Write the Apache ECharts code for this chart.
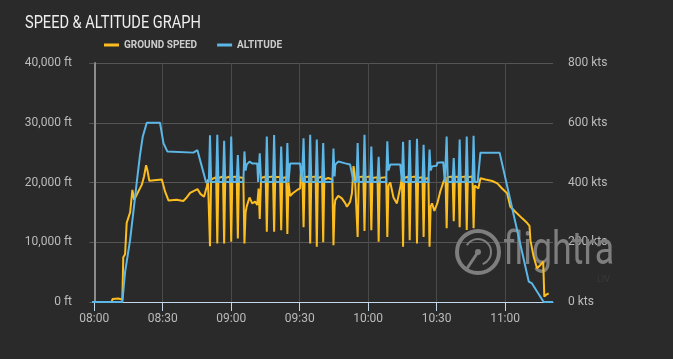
<!DOCTYPE html>
<html><head><meta charset="utf-8">
<script src="https://cdn.jsdelivr.net/npm/echarts@6/dist/echarts.min.js"></script>
<style>html,body{margin:0;padding:0;background:#2a2a2a}#c{width:673px;height:359px}</style>
</head><body><div id="c"></div>
<script>
// x values are minutes after 08:00
const xTicks = [0, 30, 60, 90, 120, 150, 180];
const xTickLabels = ['08:00', '08:30', '09:00', '09:30', '10:00', '10:30', '11:00'];

const altTimes = [-1,12.3,13.5,15.7,17.1,18.6,20.0,21.2,23.0,28.8,30.3,32.0,32.5,43.4,45.2,47.1,49.0,
 50.2,50.7,51.2,53.4,53.9,54.4,56.4,56.9,57.4,59.5,60.0,60.5,62.4,62.9,63.4,65.3,65.8,66.3,66.8,68.0,69.2,71.4,
 71.8,72.5,73.1,75.1,75.6,76.1,78.3,78.8,79.3,81.4,81.9,82.4,84.1,84.6,85.1,85.8,90.2,91.0,
 91.2,91.7,92.2,94.1,94.6,95.1,97.0,97.5,98.0,99.8,100.3,100.8,104.3,104.8,105.3,105.6,106.9,110.0,112.1,112.9,113.6,
 114.9,115.4,115.9,117.9,118.4,118.9,120.9,121.4,121.9,124.1,124.6,125.1,127.9,128.4,128.9,129.7,134.1,134.8,
 135.3,135.8,137.7,138.2,138.7,140.9,141.4,141.9,143.8,144.3,144.8,146.4,146.9,147.4,148.0,150.0,150.3,152.9,153.6,
 153.9,154.4,154.9,157.0,157.5,158.0,159.6,160.1,160.6,162.7,163.2,163.7,165.7,166.2,166.7,168.0,169.2,177.6,190.4,191.8,196.9,201];
const altValues = [0,0,5000,10400,15000,20000,24500,27600,30000,30000,26600,25200,25000,25000,25400,22700,20000,
 20100,27900,20100,20100,28000,20100,20100,27000,20100,20100,27700,20100,20100,24600,20100,20100,25200,22000,23000,23500,23200,23200,
 20100,24900,20100,20100,27700,20100,20100,27950,20100,20100,26000,20100,20100,26600,20100,23200,23200,20100,
 20100,27400,20100,20100,28000,20100,20100,27200,20100,20100,26600,20100,20100,25700,21000,23000,23500,23200,23000,21500,20100,
 20100,26600,20100,20100,28000,20100,20100,26000,20100,20100,24300,20100,20100,26900,22000,23000,23000,20100,
 26800,20100,20100,27100,20100,20100,27300,20100,20100,26300,20100,20100,25500,22000,22700,22800,23300,23400,20100,
 20100,27700,20100,20100,24100,20100,20100,27200,20100,20100,27700,20100,20100,27800,20100,20100,25000,25000,3400,3100,0,0];

const spdTimes = [-1,7.6,8.0,10.5,11.0,12.3,12.7,13.5,14.2,15.7,16.7,17.5,19.3,20.8,21.8,22.7,23.3,24.1,29.6,31.0,32.5,36.1,39.0,40.5,42.0,45.2,45.6,46.5,48.1,49.3,49.8,
 50.2,50.7,51.2,53.4,53.9,54.4,56.4,56.9,57.4,59.5,60.0,60.5,62.4,62.9,63.4,65.3,65.8,66.3,66.8,68.0,69.2,70.5,71.4,
 72.0,72.5,73.1,75.1,75.6,76.1,78.3,78.8,79.3,81.4,81.9,82.4,84.1,84.6,85.1,85.8,87.1,88.9,90.2,90.7,91.2,
 91.7,92.2,94.1,94.6,95.1,97.0,97.5,98.0,99.8,100.3,100.8,102.5,104.3,104.8,105.3,105.6,106.9,108.5,110.0,110.7,112.1,112.9,113.6,114.2,
 114.9,115.4,115.9,117.9,118.4,118.9,120.9,121.4,121.9,124.1,124.6,125.1,127.9,128.4,128.9,129.7,131.1,132.6,134.1,
 134.8,135.3,135.8,137.7,138.2,138.7,140.9,141.4,141.9,143.8,144.3,144.8,146.4,146.9,147.4,148.0,149.0,150.3,151.6,152.9,
 153.9,154.4,154.9,157.0,157.5,158.0,159.6,160.1,160.6,162.7,163.2,163.7,165.7,166.2,166.7,168.3,169.2,171.4,174.4,176.6,178.7,180.9,
 182.3,184.5,187.5,189.6,190.7,191.1,192.5,194.0,195.5,196.7,197.2,198.1,199.1];
const spdValues = [0,0,10,12,8,8,150,160,265,300,375,342,370,392,420,458,440,406,410,370,340,342,338,350,365,378,382,362,352,386,410,
 415,187,410,418,196,415,420,196,415,420,202,418,420,213,418,415,196,300,320,350,330,336,325,
 380,278,415,420,235,418,420,235,418,418,240,415,418,228,400,355,365,375,380,450,420,
 250,418,420,196,418,420,185,415,420,200,410,415,410,190,320,341,355,347,330,319,335,364,455,420,
 415,218,418,420,238,418,420,240,415,418,202,415,418,218,390,400,350,330,385,
 415,185,415,420,207,418,420,196,415,418,218,412,415,185,320,330,305,330,370,400,
 418,247,418,420,270,418,420,250,418,420,241,418,420,247,390,380,414,410,405,397,380,364,
 319,302,280,265,255,207,152,113,124,135,18,25,29];

const pairs = (ts, vs) => ts.map((t, i) => [t, vs[i]]);
const fmtTime = v => { const i = xTicks.indexOf(v); return i >= 0 ? xTickLabels[i] : ''; };
const fmtFt = v => String(v).replace(/\B(?=(\d{3})+(?!\d))/g, ',') + ' ft';

const YELLOW = '#fbbd1f', BLUE = '#5cb6e6', WM = '#7e7e7e';
const chart = echarts.init(document.getElementById('c'));
chart.setOption({
  backgroundColor: '#2a2a2a',
  animation: false,
  legend: { left: 104, top: 40, padding: 0, itemGap: 20, itemWidth: 15, itemHeight: 3, icon: 'rect',
    textStyle: { color: '#cccccc', fontSize: 10, fontWeight: 'bold', fontFamily: 'Roboto' },
    data: ['GROUND SPEED', 'ALTITUDE'] },
  grid: { left: 92, right: 120, top: 63, bottom: 57 },
  graphic: [
    { type: 'text', z: 10, x: 25, y: 14, scaleX: 0.81, style: { text: 'SPEED & ALTITUDE GRAPH', font: '18px Roboto', fill: '#eeeeee' } },
    { type: 'circle', z: 1, shape: { cx: 478, cy: 252, r: 21 }, style: { fill: 'none', stroke: WM, lineWidth: 4 } },
    { type: 'arc', z: 1, shape: { cx: 478, cy: 252, r: 13, startAngle: -2.6, endAngle: 1.2 }, style: { fill: 'none', stroke: WM, lineWidth: 2 } },
    { type: 'circle', z: 1, shape: { cx: 478, cy: 252, r: 3 }, style: { fill: WM } },
    { type: 'line', z: 1, shape: { x1: 478, y1: 252, x2: 466, y2: 270 }, style: { stroke: WM, lineWidth: 3 } },
    { type: 'text', z: 1, x: 503, y: 229, scaleX: 0.76, style: { text: 'flightra', font: '47px Roboto', fill: WM } },
    { type: 'text', z: 1, x: 597, y: 275, style: { text: 'LIV', font: '9px Roboto', fill: '#3a3a3a' } }
  ],
  xAxis: {
    type: 'value', min: -1, max: 201,
    axisLine: { lineStyle: { color: '#c3d8ea', width: 1 } },
    axisTick: { customValues: xTicks, length: 9, lineStyle: { color: '#c3d8ea' } },
    axisLabel: { customValues: xTicks, formatter: fmtTime, color: '#bbbbbb', fontSize: 12, margin: 11, fontFamily: 'Roboto' },
    splitLine: { show: true, lineStyle: { color: '#4a4a4a' } }
  },
  yAxis: [
    { type: 'value', min: 0, max: 40000, interval: 10000, position: 'left',
      axisLine: { show: true, lineStyle: { color: '#8c8c8c', width: 2 } },
      axisTick: { show: true, length: 5, lineStyle: { color: '#555' } },
      axisLabel: { formatter: fmtFt, color: '#bbbbbb', fontSize: 12, margin: 20, fontFamily: 'Roboto' },
      splitLine: { lineStyle: { color: '#555' } } },
    { type: 'value', min: 0, max: 800, interval: 200, position: 'right',
      axisLine: { show: false }, axisTick: { show: false },
      axisLabel: { formatter: v => v + ' kts', color: '#bbbbbb', fontSize: 12, margin: 15, fontFamily: 'Roboto' },
      splitLine: { show: false } }
  ],
  series: [
    { name: 'GROUND SPEED', type: 'line', yAxisIndex: 1, data: pairs(spdTimes, spdValues), showSymbol: false, symbol: 'none',
      lineStyle: { color: YELLOW, width: 2 }, itemStyle: { color: YELLOW } },
    { name: 'ALTITUDE', type: 'line', yAxisIndex: 0, data: pairs(altTimes, altValues), showSymbol: false, symbol: 'none',
      lineStyle: { color: BLUE, width: 2 }, itemStyle: { color: BLUE } }
  ]
});
</script></body></html>
